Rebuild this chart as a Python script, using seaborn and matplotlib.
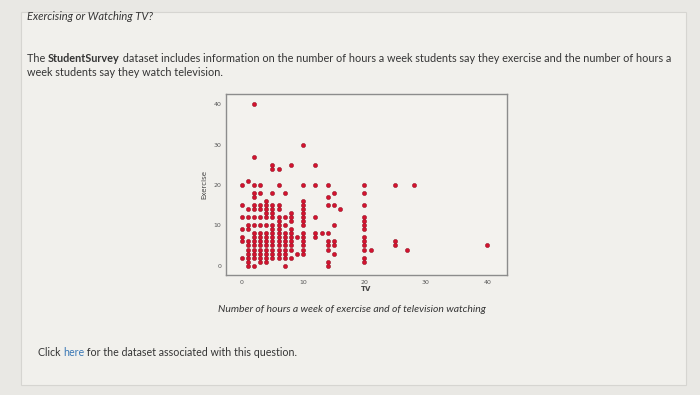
import matplotlib
matplotlib.use("Agg")
import matplotlib.pyplot as plt
import matplotlib.patches as patches
import seaborn as sns
import pandas as pd

# TV hours vs exercise hours
tv_hours = (
    [0] * 7 + [1] * 12 + [2] * 17 + [3] * 14 + [4] * 14 + [5] * 16 + [6] * 15
    + [7] * 11 + [8] * 11 + [9] * 2 + [10] * 15 + [12] * 5 + [13] * 1
    + [14] * 9 + [15] * 6 + [16] * 1 + [20] * 13 + [21] * 1 + [25] * 3
    + [27] * 1 + [28] * 1 + [40] * 1
)
exercise_hours = [
    20, 15, 12, 9, 7, 6, 2,
    21, 14, 12, 10, 9, 6, 5, 4, 3, 2, 1, 0,
    40, 27, 20, 18, 17, 15, 14, 12, 10, 8, 7, 6, 5, 4, 3, 2, 0,
    20, 18, 15, 14, 12, 10, 8, 7, 6, 5, 4, 3, 2, 1,
    16, 15, 14, 13, 12, 10, 8, 7, 6, 5, 4, 3, 2, 1,
    25, 24, 18, 15, 14, 13, 12, 10, 9, 8, 7, 6, 5, 4, 3, 2,
    24, 20, 15, 14, 12, 11, 10, 9, 8, 7, 6, 5, 4, 3, 2,
    18, 12, 10, 8, 7, 6, 5, 4, 3, 2, 0,
    25, 13, 12, 11, 9, 8, 7, 6, 5, 4, 2,
    7, 3,
    30, 20, 16, 15, 14, 13, 12, 11, 10, 8, 7, 6, 5, 4, 3,
    25, 20, 12, 8, 7,
    8,
    20, 17, 15, 8, 6, 5, 4, 1, 0,
    18, 15, 10, 6, 5, 3,
    14,
    20, 18, 15, 12, 11, 10, 9, 7, 6, 5, 4, 2, 1,
    4,
    20, 6, 5,
    4,
    20,
    5,
]
x_ticks = [0, 10, 20, 30, 40]
y_ticks = [0, 10, 20, 30, 40]

df = pd.DataFrame({"TV": tv_hours, "Exercise": exercise_hours})

sns.set_style("white")
plt.rcParams["font.family"] = ["Lato", "DejaVu Sans"]

page_bg = "#e9e8e4"
card_bg = "#f1f0ec"
text_col = "#353535"

fig = plt.figure(figsize=(7, 3.95), dpi=100, facecolor=page_bg)

# page card (behind everything)
card = patches.Rectangle((0.03, 0.025), 0.95, 0.945, transform=fig.transFigure,
                         facecolor=card_bg, edgecolor="#d6d5d1", linewidth=0.8,
                         zorder=-5)
fig.patches.append(card)

ax = fig.add_axes([0.323, 0.304, 0.401, 0.458])
ax.set_zorder(2)
ax.set_facecolor("#f3f2ee")
sns.scatterplot(data=df, x="TV", y="Exercise", ax=ax, color="#d3132f",
                edgecolor="#8c1020", linewidth=0.35, s=9, legend=False)
ax.set_xlim(-2.56, 43.2)
ax.set_ylim(-2.3, 42.55)
ax.set_xticks(x_ticks)
ax.set_yticks(y_ticks)
ax.tick_params(axis="both", labelsize=4.5, colors="#8a8a8a", labelcolor="#555555",
               length=2, width=0.6, pad=1.5)
for lab in ax.get_xticklabels() + ax.get_yticklabels():
    lab.set_family("DejaVu Sans")
for sp in ax.spines.values():
    sp.set_color("#8c8c8c")
    sp.set_linewidth(1.0)
ax.set_xlabel("TV", fontsize=5, color="#444444", family="DejaVu Sans", labelpad=1,
              fontweight="bold")
ax.set_ylabel("Exercise", fontsize=5, color="#444444", family="DejaVu Sans",
              labelpad=4)

# page text
fig.text(27 / 700, 1 - 17 / 395, "Exercising or Watching TV?", fontsize=8,
         style="italic", color=text_col, va="center")

renderer = fig.canvas.get_renderer()
x = 27 / 700
y1 = 1 - 59 / 395
for piece, weight in [("The ", "normal"), ("StudentSurvey", "bold"),
                      (" dataset includes information on the number of hours a week "
                       "students say they exercise and the number of hours a", "normal")]:
    t = fig.text(x, y1, piece, fontsize=7.85, color=text_col, va="center",
                 fontweight=weight)
    bb = t.get_window_extent(renderer=renderer)
    x += bb.width / fig.bbox.width
fig.text(27 / 700, 1 - 72 / 395, "week students say they watch television.",
         fontsize=7.85, color=text_col, va="center")

fig.text(352 / 700, 1 - 309 / 395,
         "Number of hours a week of exercise and of television watching",
         fontsize=7.5, style="italic", color=text_col, ha="center", va="center")

x = 38 / 700
y2 = 1 - 352 / 395
for piece, col in [("Click ", text_col), ("here", "#3a78b5"),
                   (" for the dataset associated with this question.", text_col)]:
    t = fig.text(x, y2, piece, fontsize=7.7, color=col, va="center")
    bb = t.get_window_extent(renderer=renderer)
    x += bb.width / fig.bbox.width

fig.savefig("out.png", dpi=100, facecolor=page_bg)
